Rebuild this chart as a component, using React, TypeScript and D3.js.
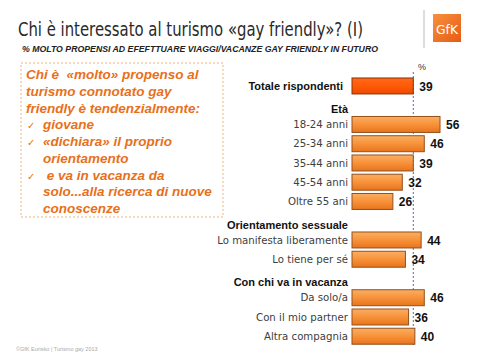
import React from 'react';
import * as d3 from 'd3';

const categories = [
  'Totale rispondenti', 'Età', '18-24 anni', '25-34 anni', '35-44 anni', '45-54 anni', 'Oltre 55 ani',
  'Orientamento sessuale', 'Lo manifesta liberamente', 'Lo tiene per sé',
  'Con chi va in vacanza', 'Da solo/a', 'Con il mio partner', 'Altra compagnia',
];
const values: (number | null)[] = [39, null, 56, 46, 39, 32, 26, null, 44, 34, null, 46, 36, 40];
const boldLabels = ['Totale rispondenti', 'Età', 'Orientamento sessuale', 'Con chi va in vacanza'];
const referenceValue = 39;

const boxLines = [
  { text: 'Chi è  «molto» propenso al', check: false },
  { text: 'turismo connotato gay', check: false },
  { text: 'friendly è tendenzialmente:', check: false },
  { text: 'giovane', check: true },
  { text: '«dichiara» il proprio', check: true },
  { text: 'orientamento', check: false, indent: true },
  { text: ' e va in vacanza da', check: true },
  { text: 'solo...alla ricerca di nuove', check: false, indent: true },
  { text: 'conoscenze', check: false, indent: true },
];

const App = () => {
  const width = 480;
  const height = 360;
  const x0 = 352;

  const x = d3.scaleLinear().domain([0, 56]).range([x0, x0 + 88]);
  const y = d3.scaleBand<string>().domain(categories).range([74.7, 347.5]).padding(0.17);

  const orange = '#E8701A';

  return (
    <svg width={width} height={height} style={{ position: 'absolute', left: 0, top: 0, background: '#fff' }}>
      <defs>
        <linearGradient id="barGrad" x1="0" y1="0" x2="0" y2="1">
          <stop offset="0" stopColor="#FBAE62" />
          <stop offset="0.5" stopColor="#F7923A" />
          <stop offset="1" stopColor="#E8741C" />
        </linearGradient>
        <linearGradient id="totGrad" x1="0" y1="0" x2="0" y2="1">
          <stop offset="0" stopColor="#FF6A1A" />
          <stop offset="0.5" stopColor="#FF5A08" />
          <stop offset="1" stopColor="#EC4A00" />
        </linearGradient>
        <linearGradient id="logoGrad" x1="0" y1="0" x2="1" y2="1">
          <stop offset="0" stopColor="#F7913F" />
          <stop offset="1" stopColor="#E85A12" />
        </linearGradient>
      </defs>

      {/* title */}
      <text x={18} y={36} fontFamily="DejaVu Sans, sans-serif" fontSize={19} fill="#2a2a2a"
        textLength={345} lengthAdjust="spacingAndGlyphs">
        Chi è interessato al turismo «gay friendly»? (I)
      </text>
      <text x={22} y={52} fontFamily="Liberation Sans, Arial, sans-serif" fontSize={8.5} fontWeight="bold"
        fontStyle="italic" fill="#222" textLength={356} lengthAdjust="spacingAndGlyphs">
        % MOLTO PROPENSI AD EFEFTTUARE VIAGGI/VACANZE GAY FRIENDLY IN FUTURO
      </text>

      {/* logo */}
      <line x1={424} x2={424} y1={10} y2={48} stroke="#bbb" strokeWidth={1} />
      <rect x={433} y={14} width={28} height={28} fill="url(#logoGrad)" />
      <text x={436} y={34} fontFamily="DejaVu Sans, sans-serif" fontSize={12}
        fill="#fff" textLength={22} lengthAdjust="spacingAndGlyphs">GfK</text>

      {/* left box */}
      <rect x={21} y={63} width={202} height={154} fill="none" stroke="#F3B27A" strokeWidth={1}
        strokeDasharray="2,2" />
      {boxLines.map((l, i) => {
        const by = 79 + i * 16.75;
        const tx = l.check ? 43 : l.indent ? 43 : 26;
        return (
          <g key={i}>
            {l.check && (
              <text x={27} y={by} fontFamily="DejaVu Sans, sans-serif" fontSize={10} fill={orange}>✓</text>
            )}
            <text x={tx} y={by} fontFamily="Liberation Sans, Arial, sans-serif" fontSize={13.5}
              fontWeight="bold" fontStyle="italic" fill={orange} xmlSpace="preserve">
              {l.text}
            </text>
          </g>
        );
      })}

      {/* reference line */}
      <text x={422} y={70} textAnchor="middle" fontFamily="Liberation Sans, Arial, sans-serif" fontSize={9}
        fill="#333">%</text>
      <line x1={x(referenceValue)} x2={x(referenceValue)} y1={72} y2={345} stroke="#4F6F9F"
        strokeWidth={1} strokeDasharray="2,2" />

      {/* bars */}
      {categories.map((c, i) => {
        const v = values[i];
        const by = y(c)!;
        const bh = y.bandwidth();
        const bold = boldLabels.includes(c);
        return (
          <g key={c}>
            <text x={bold ? (v === null ? 348 : 343) : 348} y={by + bh / 2 + (v === null ? 4 : 0)}
              dy="0.35em" textAnchor="end"
              fontFamily={bold ? 'Liberation Sans, Arial, sans-serif' : 'DejaVu Sans, sans-serif'}
              fontSize={bold ? 11 : 10.2} fontWeight={bold ? 'bold' : 'normal'} fill={bold ? '#111' : '#404040'}>
              {c}
            </text>
            {v !== null && (
              <>
                <rect x={x(0)} y={by} width={x(v) - x(0)} height={bh}
                  fill={i === 0 ? 'url(#totGrad)' : 'url(#barGrad)'}
                  stroke={i === 0 ? '#8A3208' : '#94501C'} strokeWidth={1} />
                <text x={x(v) + 6} y={by + bh / 2} dy="0.38em" fontFamily="Liberation Sans, Arial, sans-serif"
                  fontSize={12} fontWeight="bold" fill="#111">{v}</text>
              </>
            )}
          </g>
        );
      })}

      {/* footer */}
      <text x={16} y={351} fontFamily="Liberation Sans, Arial, sans-serif" fontSize={5.5} fill="#aaa">
        ©GfK Eurisko | Turismo gay 2013
      </text>
    </svg>
  );
};

export default App;
